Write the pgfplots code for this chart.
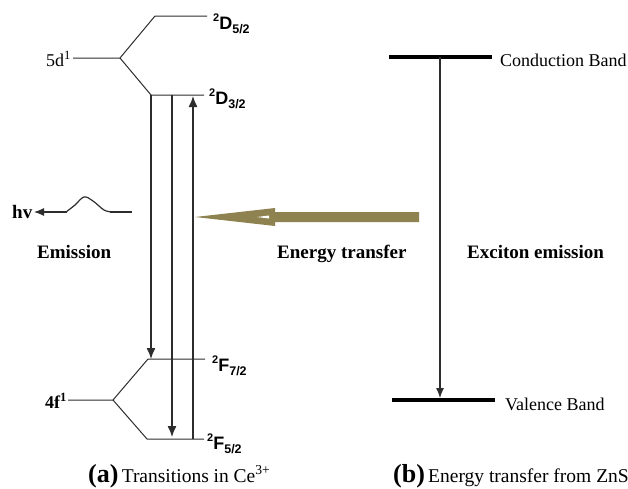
\documentclass[border=0pt]{standalone}
\usepackage{fontspec}
\setmainfont{Liberation Serif}
\setsansfont{Liberation Sans}
\usepackage{pgfplots}
\pgfplotsset{compat=1.18}
\usetikzlibrary{arrows.meta}
\definecolor{olivearrow}{RGB}{141,130,80}
\definecolor{ln}{RGB}{45,45,45}
\newcommand{\lvl}[3]{{\sffamily\bfseries\raisebox{7.5pt}{\fontsize{11}{11}\selectfont #1}#2\raisebox{-4pt}{\fontsize{12.5}{12}\selectfont #3}}}
\begin{document}
\begin{tikzpicture}
\begin{axis}[width=628pt,height=488pt,scale only axis,hide axis,
  xmin=0,xmax=628,ymin=0,ymax=488,y dir=reverse,clip=false]
% 5d levels
\addplot[ln,line width=1pt] coordinates {(73,58)(120,58)(155,16)(207,16)};
\addplot[ln,line width=1pt] coordinates {(120,58)(151,95)(204,95)};
% 4f levels
\addplot[ln,line width=1pt] coordinates {(68,400)(113,400)(148,359)(205,359)};
\addplot[ln,line width=1pt] coordinates {(113,400)(147,439)(204,439)};
% transitions
\addplot[ln,line width=1.3pt,-{Latex[length=11pt,width=9pt]}] coordinates {(151,95)(151,359)};
\addplot[ln,line width=1.3pt,-{Latex[length=11pt,width=9pt]}] coordinates {(172,95)(172,437)};
\addplot[ln,line width=1.3pt,-{Latex[length=11pt,width=9pt]}] coordinates {(193,439)(193,96)};
% photon
\addplot[ln,line width=1.2pt,smooth,tension=0.6] coordinates {(66,212)(75,205)(84,197)(93,201)(104,210)(112,212)};
\addplot[ln,line width=2pt] coordinates {(110,212)(132,212)};
\addplot[ln,line width=1.2pt,-{Latex[length=10pt,width=8pt]}] coordinates {(67,212)(34,212)};
% energy transfer arrow
\addplot[draw=none,fill=olivearrow] coordinates {(419,212)(275,212)(275,208)(195,217)(275,226)(275,222)(419,222)} --cycle;
\addplot[draw=none,fill=white] coordinates {(257,217)(269,215.5)(269,218.5)} --cycle;
% ZnS bands
\addplot[black,line width=4pt] coordinates {(389,57)(492,57)};
\addplot[black,line width=4pt] coordinates {(392,400)(495,400)};
\addplot[ln,line width=1.2pt,-{Latex[length=10pt,width=8pt]}] coordinates {(440,57)(440,398)};
% labels
\node[anchor=base east,inner sep=0pt,font=\fontsize{18}{20}\selectfont] at (axis cs:71,66) {5d\textsuperscript{1}};
\node[anchor=base east,inner sep=0pt,font=\bfseries\fontsize{18}{20}\selectfont] at (axis cs:67,408) {4f\textsuperscript{1}};
\node[anchor=base west,inner sep=0pt,font=\fontsize{18}{20}\selectfont] at (axis cs:213,29) {\lvl{2}{D}{5/2}};
\node[anchor=base west,inner sep=0pt,font=\fontsize{18}{20}\selectfont] at (axis cs:209,104) {\lvl{2}{D}{3/2}};
\node[anchor=base west,inner sep=0pt,font=\fontsize{18}{20}\selectfont] at (axis cs:212,371) {\lvl{2}{F}{7/2}};
\node[anchor=base west,inner sep=0pt,font=\fontsize{18}{20}\selectfont] at (axis cs:207,449) {\lvl{2}{F}{5/2}};
\node[anchor=base west,inner sep=0pt,font=\bfseries\fontsize{19}{20}\selectfont] at (axis cs:12,218) {hv};
\node[anchor=base west,inner sep=0pt,font=\bfseries\fontsize{19}{20}\selectfont] at (axis cs:37,258) {Emission};
\node[anchor=base west,inner sep=0pt,font=\bfseries\fontsize{19}{20}\selectfont] at (axis cs:277,258) {Energy transfer};
\node[anchor=base west,inner sep=0pt,font=\bfseries\fontsize{19}{20}\selectfont] at (axis cs:467,258) {Exciton emission};
\node[anchor=base west,inner sep=0pt,font=\fontsize{18}{20}\selectfont] at (axis cs:500,66) {Conduction Band};
\node[anchor=base west,inner sep=0pt,font=\fontsize{18}{20}\selectfont] at (axis cs:505,410) {Valence Band};
\node[anchor=base west,inner sep=0pt,font=\fontsize{19.5}{22}\selectfont] at (axis cs:88,482) {{\bfseries\fontsize{26}{28}\selectfont (a)}\,Transitions in Ce\textsuperscript{3+}};
\node[anchor=base west,inner sep=0pt,font=\fontsize{19.5}{22}\selectfont] at (axis cs:393,482) {{\bfseries\fontsize{26}{28}\selectfont (b)}\,Energy transfer from ZnS};
\end{axis}
\pgfresetboundingbox
\useasboundingbox (current axis.south west) rectangle (current axis.north east);
\end{tikzpicture}
\end{document}
